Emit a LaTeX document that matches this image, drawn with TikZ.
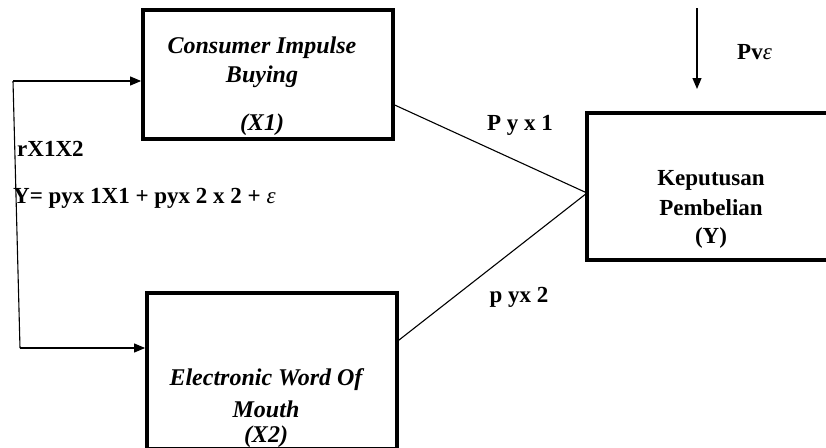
\documentclass[tikz,border=0pt]{standalone}
\usepackage{fontspec}
\setmainfont{Liberation Serif}
\usetikzlibrary{arrows.meta,calc}
\begin{document}
\begin{tikzpicture}[x=1pt,y=-1pt,
  box/.style={draw,line width=3.8pt,inner sep=0pt},
  conn/.style={line width=1.1pt},
  arr/.style={conn,-{Triangle[length=11pt,width=9pt]}},
  lbl/.style={font=\fontsize{23}{24}\selectfont\bfseries,inner sep=0pt},
  blbl/.style={font=\fontsize{24}{25}\selectfont\bfseries\itshape,inner sep=0pt}]
\useasboundingbox (0,0) rectangle (826,447);
% boxes
\node[box,minimum width=250pt,minimum height=129pt] (x1) at (268,74.5) {};
\node[box,minimum width=250pt,minimum height=156pt] (x2) at (272,371) {};
\node[box,minimum width=248pt,minimum height=147pt] (y) at (711,186.5) {};
% box texts
\node[blbl] (t1a) at (262,48) {Consumer Impulse};
\node[blbl] (t1b) at (262,77) {Buying};
\node[blbl] (t1c) at (262,125) {(X1)};
\node[blbl] (t2a) at (266,380) {Electronic Word Of};
\node[blbl] (t2b) at (266,409) {Mouth};
\node[blbl] (t2c) at (266,437) {(X2)};
\node[lbl] (t3a) at (711,180) {Keputusan};
\node[lbl] (t3b) at (711,208) {Pembelian};
\node[lbl] (t3c) at (711,238) {(Y)};
% connectors
\coordinate (a) at (13,81);
\coordinate (b) at (20,348);
\coordinate (j) at (587,193);
\coordinate (p1) at (697,8);
\coordinate (p2) at (697,89);
\draw[conn] (a) -- (b);
\draw[arr] (a) -- (a -| x1.west);
\draw[arr] (b) -- (b -| x2.west);
\draw[conn] ($(x1.north east)+(0,97)$) -- (j);
\draw[conn] ($(x2.north east)+(0,49)$) -- (j);
\draw[arr] (p1) -- (p2);
% labels
\node[lbl,anchor=west] (r) at (17,149) {rX1X2};
\node[lbl,anchor=west] (eq) at (13,198) {Y= pyx 1X1 + pyx 2 x 2 + {\mdseries\itshape ε}};
\node[lbl,anchor=west] (pv) at (737,52) {Pv{\mdseries\itshape ε}};
\node[lbl] (py1) at (520,125) {P y x 1};
\node[lbl] (py2) at (519,297) {p yx 2};
\end{tikzpicture}
\end{document}
